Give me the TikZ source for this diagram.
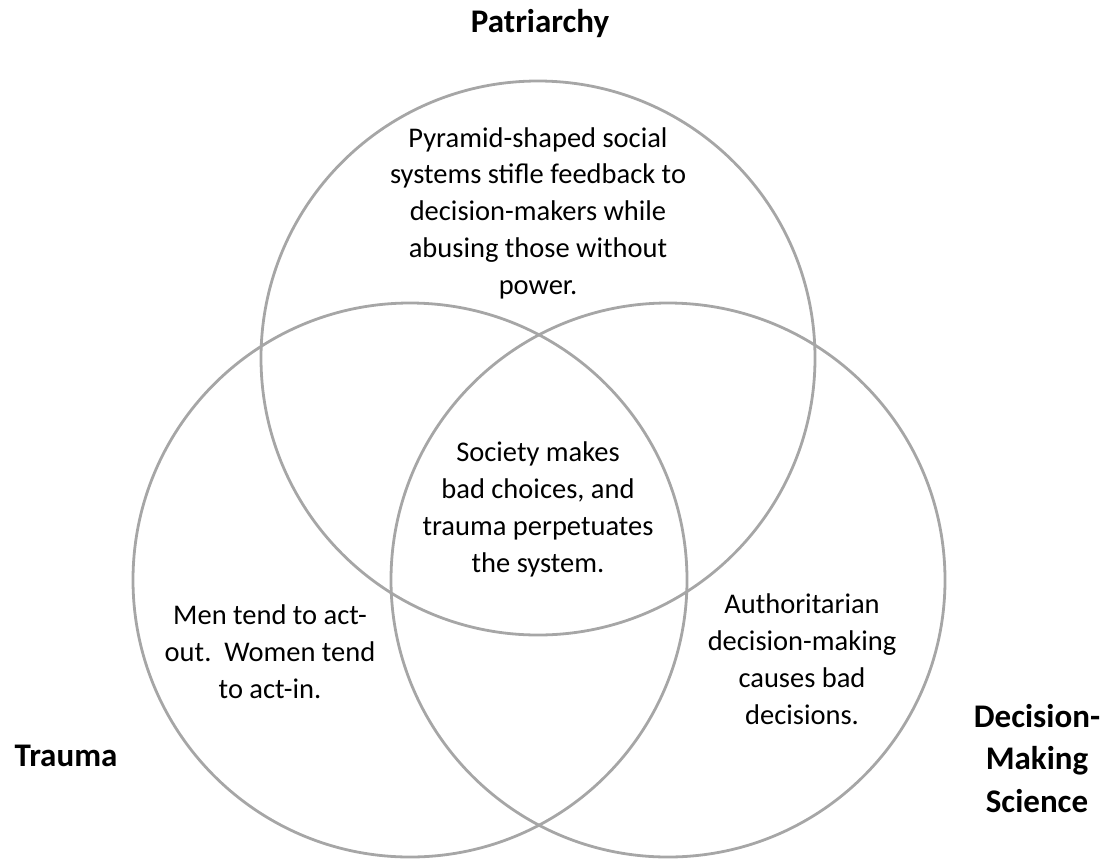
\documentclass[tikz,border=0pt]{standalone}
\usepackage{fontspec}
\setmainfont{Carlito}
\usetikzlibrary{positioning}
\definecolor{ringgray}{RGB}{166,166,166}
\newcommand*{\vtxt}{\fontsize{28.5}{36.7}\selectfont}
\newcommand*{\vlbl}{\fontsize{33}{42.5}\selectfont\bfseries}

\begin{document}
\begin{tikzpicture}[x=1pt,y=-1pt,
  ring/.style={draw=ringgray,line width=2.8pt},
  blurb/.style={align=center,inner sep=0pt,font=\vtxt,anchor=base},
  setname/.style={align=center,inner sep=0pt,font=\vlbl,anchor=base}]
\useasboundingbox (0,0) rectangle (1107,860);
% Centres of the three circles
\coordinate (patr) at (538,358);
\coordinate (trau) at (410,580);
\coordinate (deci) at (668,580);
% The three circles
\draw[ring] (patr) circle (277pt);
\draw[ring] (trau) circle (277pt);
\draw[ring] (deci) circle (277pt);
% Names of the sets (base = last line)
\node[setname] (patrname) at (540,32) {Patriarchy};
\node[setname] (trauname) at (66,766) {Trauma};
\node[setname] (deciname) at (1037,812) {Decision-\\Making\\Science};
% Text inside the regions
\node[blurb] (patrtext) at (538,294)
  {Pyramid-shaped social\\systems stifle feedback to\\decision-makers while\\abusing those without\\power.};
\node[blurb] (trautext) at (270,698)
  {Men tend to act-\\out.\ \ Women tend\\to act-in.};
\node[blurb] (decitext) at (802,724)
  {Authoritarian\\decision-making\\causes bad\\decisions.};
\node[blurb] (alltext) at (538,572)
  {Society makes\\bad choices, and\\trauma perpetuates\\the system.};
\end{tikzpicture}
\end{document}
